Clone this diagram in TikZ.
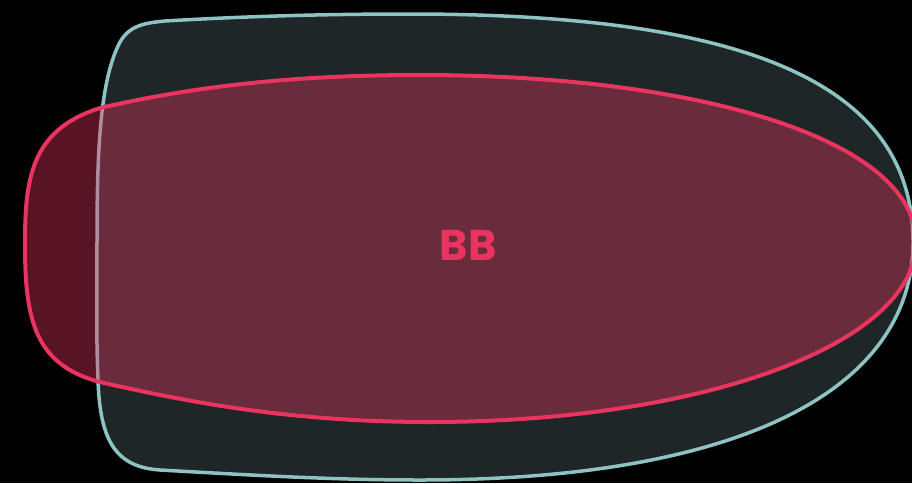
\documentclass[tikz,border=0pt]{standalone}
\usepackage{fontspec}
\newfontfamily\labelfont{Poppins}
\definecolor{bgc}{HTML}{000000}
\definecolor{tealline}{HTML}{8EC3C3}
\definecolor{tealfill}{HTML}{1E2627}
\definecolor{pinkc}{HTML}{E8345F}
\tikzset{
  tealshape/.style={draw=tealline, line width=3.5pt, fill=tealfill},
  pinkshape/.style={draw=pinkc, line width=4pt, fill=pinkc, fill opacity=0.38, draw opacity=1},
  biglabel/.style={text=pinkc, font=\labelfont\bfseries\fontsize{43}{43}\selectfont}
}
\begin{document}
\begin{tikzpicture}[x=1pt,y=-1pt]
\useasboundingbox (0,0) rectangle (912,483);
\fill[bgc] (0,0) rectangle (912,483);
\clip (0,0) rectangle (912,483);
% teal shape
\path[tealshape] (97,240) .. controls (97,150) and (100,80) .. (120,42)
  .. controls (130,25) and (145,23) .. (165,21)
  .. controls (250,16) and (330,14) .. (410,14)
  .. controls (750,14) and (913,85) .. (913,242)
  .. controls (913,390) and (740,480) .. (420,480)
  .. controls (330,480) and (250,475) .. (160,470)
  .. controls (115,467) and (100,440) .. (98,380)
  .. controls (96,330) and (97,290) .. (97,240) -- cycle;
% pink shape
\path[pinkshape] (25,245) .. controls (25,180) and (30,130) .. (100,108)
  .. controls (200,85) and (300,75) .. (420,75)
  .. controls (700,75) and (916,140) .. (916,242)
  .. controls (916,345) and (700,422) .. (430,422)
  .. controls (300,422) and (200,405) .. (100,382)
  .. controls (35,365) and (25,320) .. (25,245) -- cycle;
\node[biglabel] (bb) at (468,245) {BB};
\end{tikzpicture}
\end{document}
